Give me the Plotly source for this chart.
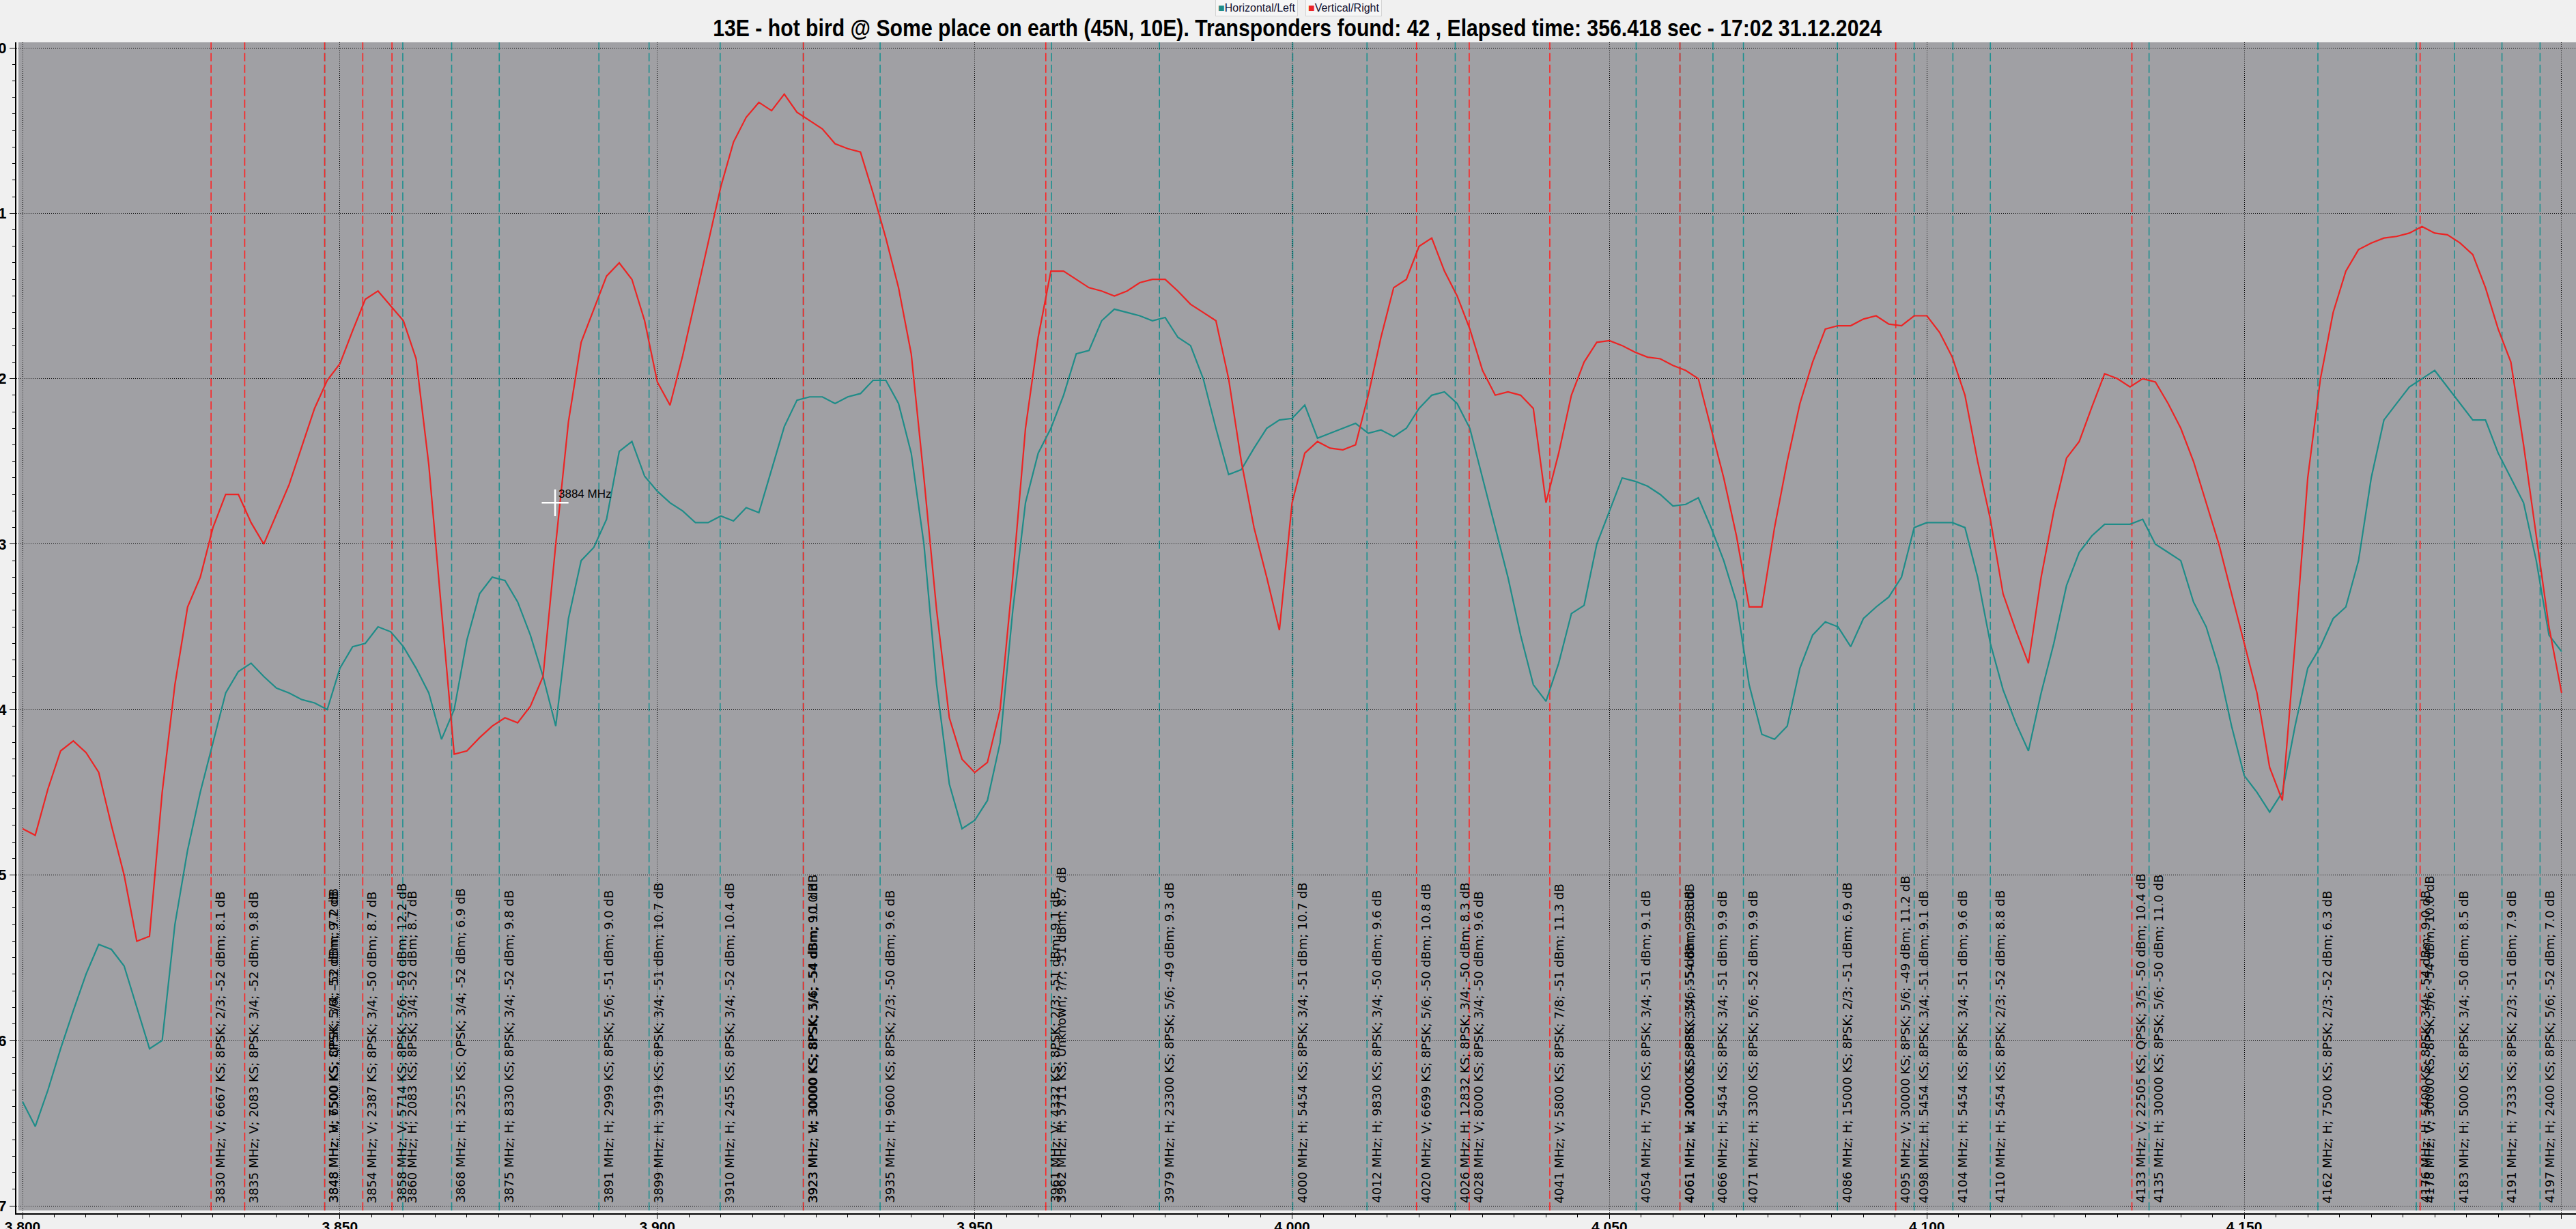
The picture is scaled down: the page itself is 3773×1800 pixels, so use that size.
import plotly.graph_objects as go

# ---------------- data ----------------
freq_mhz = list(range(3800, 4201, 2))

h_level = [
    6.37, 6.52, 6.30, 6.05, 5.82,
    5.60, 5.42, 5.45, 5.55, 5.80,
    6.05, 6.00, 5.30, 4.85, 4.50,
    4.20, 3.90, 3.77, 3.72, 3.80,
    3.87, 3.90, 3.94, 3.96, 4.00,
    3.75, 3.62, 3.60, 3.50, 3.53,
    3.62, 3.75, 3.90, 4.18, 4.00,
    3.58, 3.30, 3.20, 3.22, 3.35,
    3.55, 3.80, 4.10, 3.45, 3.10,
    3.02, 2.85, 2.44, 2.38, 2.59,
    2.68, 2.75, 2.80, 2.87, 2.87,
    2.83, 2.86, 2.78, 2.81, 2.55,
    2.29, 2.13, 2.11, 2.11, 2.15,
    2.11, 2.09, 2.01, 2.01, 2.15,
    2.45, 3.00, 3.85, 4.45, 4.72,
    4.67, 4.55, 4.20, 3.40, 2.75,
    2.45, 2.30, 2.10, 1.85, 1.83,
    1.65, 1.58, 1.60, 1.62, 1.65,
    1.63, 1.75, 1.80, 2.00, 2.30,
    2.58, 2.55, 2.42, 2.30, 2.25,
    2.24, 2.16, 2.36, 2.33, 2.30,
    2.27, 2.33, 2.31, 2.35, 2.30,
    2.18, 2.10, 2.08, 2.15, 2.30,
    2.60, 2.90, 3.20, 3.55, 3.85,
    3.95, 3.72, 3.42, 3.37, 3.00,
    2.80, 2.60, 2.62, 2.65, 2.70,
    2.77, 2.76, 2.72, 2.90, 3.10,
    3.35, 3.85, 4.15, 4.18, 4.10,
    3.75, 3.55, 3.47, 3.50, 3.62,
    3.45, 3.38, 3.32, 3.20, 2.90,
    2.87, 2.87, 2.87, 2.90, 3.20,
    3.60, 3.88, 4.08, 4.25, 3.90,
    3.60, 3.25, 3.05, 2.95, 2.88,
    2.88, 2.88, 2.85, 3.00, 3.05,
    3.10, 3.35, 3.50, 3.75, 4.10,
    4.40, 4.50, 4.62, 4.50, 4.10,
    3.75, 3.62, 3.45, 3.38, 3.10,
    2.60, 2.25, 2.15, 2.05, 2.00,
    1.95, 2.05, 2.15, 2.25, 2.25,
    2.45, 2.60, 2.75, 3.10, 3.55,
    3.65,
]

v_level = [
    4.72, 4.76, 4.48, 4.25, 4.19,
    4.26, 4.38, 4.70, 5.00, 5.40,
    5.37, 4.50, 3.85, 3.38, 3.20,
    2.90, 2.70, 2.70, 2.87, 3.00,
    2.82, 2.64, 2.41, 2.18, 2.01,
    1.91, 1.71, 1.52, 1.47, 1.56,
    1.65, 1.88, 2.52, 3.40, 4.27,
    4.25, 4.17, 4.10, 4.05, 4.08,
    3.98, 3.80, 3.00, 2.26, 1.78,
    1.58, 1.38, 1.30, 1.40, 1.65,
    2.02, 2.16, 1.86, 1.52, 1.18,
    0.84, 0.57, 0.42, 0.33, 0.38,
    0.28, 0.39, 0.44, 0.49, 0.58,
    0.61, 0.63, 0.88, 1.15, 1.45,
    1.85, 2.60, 3.40, 4.05, 4.30,
    4.38, 4.32, 4.00, 3.20, 2.30,
    1.75, 1.35, 1.35, 1.40, 1.45,
    1.47, 1.50, 1.47, 1.42, 1.40,
    1.40, 1.47, 1.55, 1.60, 1.65,
    2.00, 2.50, 2.90, 3.20, 3.52,
    2.75, 2.45, 2.38, 2.42, 2.43,
    2.40, 2.10, 1.75, 1.45, 1.40,
    1.20, 1.15, 1.35, 1.50, 1.70,
    1.95, 2.10, 2.08, 2.10, 2.18,
    2.75, 2.45, 2.10, 1.90, 1.78,
    1.77, 1.80, 1.84, 1.87, 1.88,
    1.92, 1.95, 2.00, 2.30, 2.60,
    2.95, 3.38, 3.38, 2.90, 2.50,
    2.15, 1.90, 1.70, 1.68, 1.68,
    1.64, 1.62, 1.67, 1.68, 1.62,
    1.62, 1.72, 1.87, 2.10, 2.50,
    2.85, 3.30, 3.52, 3.72, 3.20,
    2.80, 2.48, 2.38, 2.17, 1.97,
    2.00, 2.05, 2.00, 2.02, 2.15,
    2.30, 2.50, 2.75, 3.00, 3.30,
    3.60, 3.90, 4.35, 4.55, 3.60,
    2.60, 2.00, 1.60, 1.35, 1.22,
    1.18, 1.15, 1.14, 1.12, 1.08,
    1.12, 1.13, 1.18, 1.25, 1.45,
    1.70, 1.90, 2.40, 2.95, 3.50,
    3.90,
]

tp_freq = [3829.7, 3835.0, 3847.6, 3847.6, 3853.6, 3858.2, 3859.9, 3867.6, 3875.1,
           3890.8, 3898.7, 3909.9, 3923.0, 3923.0, 3935.1, 3961.2, 3962.1, 3979.1,
           4000.1, 4011.8, 4019.6, 4025.7, 4027.9, 4040.6, 4054.2, 4061.1, 4061.1,
           4066.3, 4071.1, 4085.9, 4095.1, 4098.0, 4104.1, 4110.0, 4132.3, 4135.0,
           4161.6, 4177.1, 4177.7, 4183.1, 4190.6, 4196.6]
tp_pol = ["V", "V", "H", "V", "V", "V", "H", "H", "H",
          "H", "H", "H", "H", "V", "H", "V", "H", "H",
          "H", "H", "V", "H", "V", "V", "H", "H", "V",
          "H", "H", "H", "V", "H", "H", "H", "V", "H",
          "H", "H", "V", "H", "H", "H"]
tp_label = [
    "3830 MHz; V; 6667 KS; 8PSK; 2/3; -52 dBm; 8.1 dB",
    "3835 MHz; V; 2083 KS; 8PSK; 3/4; -52 dBm; 9.8 dB",
    "3848 MHz; H; 6500 KS; QPSK; 3/4; -52 dBm; 7.2 dB",
    "3848 MHz; V; 7500 KS; 8PSK; 5/6; -53 dBm; 9.7 dB",
    "3854 MHz; V; 2387 KS; 8PSK; 3/4; -50 dBm; 8.7 dB",
    "3858 MHz; V; 5714 KS; 8PSK; 5/6; -50 dBm; 12.2 dB",
    "3860 MHz; H; 2083 KS; 8PSK; 3/4; -52 dBm; 8.7 dB",
    "3868 MHz; H; 3255 KS; QPSK; 3/4; -52 dBm; 6.9 dB",
    "3875 MHz; H; 8330 KS; 8PSK; 3/4; -52 dBm; 9.8 dB",
    "3891 MHz; H; 2999 KS; 8PSK; 5/6; -51 dBm; 9.0 dB",
    "3899 MHz; H; 3919 KS; 8PSK; 3/4; -51 dBm; 10.7 dB",
    "3910 MHz; H; 2455 KS; 8PSK; 3/4; -52 dBm; 10.4 dB",
    "3923 MHz; H; 30000 KS; 8PSK; 5/6; -54 dBm; 10.0 dB",
    "3923 MHz; V; 30000 KS; 8PSK; 3/4; -54 dBm; 9.1 dB",
    "3935 MHz; H; 9600 KS; 8PSK; 2/3; -50 dBm; 9.6 dB",
    "3961 MHz; V; 4332 KS; 8PSK; 2/3; -51 dBm; 9.1 dB",
    "3962 MHz; H; 5711 KS; Unknown; ?/?; -51 dBm; 8.7 dB",
    "3979 MHz; H; 23300 KS; 8PSK; 5/6; -49 dBm; 9.3 dB",
    "4000 MHz; H; 5454 KS; 8PSK; 3/4; -51 dBm; 10.7 dB",
    "4012 MHz; H; 9830 KS; 8PSK; 3/4; -50 dBm; 9.6 dB",
    "4020 MHz; V; 6699 KS; 8PSK; 5/6; -50 dBm; 10.8 dB",
    "4026 MHz; H; 12832 KS; 8PSK; 3/4; -50 dBm; 8.3 dB",
    "4028 MHz; V; 8000 KS; 8PSK; 3/4; -50 dBm; 9.6 dB",
    "4041 MHz; V; 5800 KS; 8PSK; 7/8; -51 dBm; 11.3 dB",
    "4054 MHz; H; 7500 KS; 8PSK; 3/4; -51 dBm; 9.1 dB",
    "4061 MHz; H; 2000 KS; 8PSK; 3/4; -55 dBm; 9.3 dB",
    "4061 MHz; V; 30000 KS; 8PSK; 5/6; -54 dBm; 9.8 dB",
    "4066 MHz; H; 5454 KS; 8PSK; 3/4; -51 dBm; 9.9 dB",
    "4071 MHz; H; 3300 KS; 8PSK; 5/6; -52 dBm; 9.9 dB",
    "4086 MHz; H; 15000 KS; 8PSK; 2/3; -51 dBm; 6.9 dB",
    "4095 MHz; V; 30000 KS; 8PSK; 5/6; -49 dBm; 11.2 dB",
    "4098 MHz; H; 5454 KS; 8PSK; 3/4; -51 dBm; 9.1 dB",
    "4104 MHz; H; 5454 KS; 8PSK; 3/4; -51 dBm; 9.6 dB",
    "4110 MHz; H; 5454 KS; 8PSK; 2/3; -52 dBm; 8.8 dB",
    "4133 MHz; V; 22505 KS; QPSK; 3/5; -50 dBm; 10.4 dB",
    "4135 MHz; H; 30000 KS; 8PSK; 5/6; -50 dBm; 11.0 dB",
    "4162 MHz; H; 7500 KS; 8PSK; 2/3; -52 dBm; 6.3 dB",
    "4176 MHz; H; 5400 KS; 8PSK; 3/4; -54 dBm; 9.0 dB",
    "4178 MHz; V; 30000 KS; 8PSK; 5/6; -54 dBm; 10.0 dB",
    "4183 MHz; H; 5000 KS; 8PSK; 3/4; -50 dBm; 8.5 dB",
    "4191 MHz; H; 7333 KS; 8PSK; 2/3; -51 dBm; 7.9 dB",
    "4197 MHz; H; 2400 KS; 8PSK; 5/6; -52 dBm; 7.0 dB",
]

cursor_freq = [3883.9]
cursor_level = [2.75]
cursor_text = "3884 MHz"

series_names = ["Horizontal/Left", "Vertical/Right"]
title_text = ("13E - hot bird @ Some place on earth (45N, 10E). Transponders found: 42 , "
              "Elapsed time: 356.418 sec - 17:02 31.12.2024")

# ---------------- styling ----------------
TEAL = "#1f8c88"
RED = "#ec2424"
LINE_TEAL = "#1f9090"
LINE_RED = "#ff2222"
PLOT_BG = "#a0a0a4"
PAPER_BG = "#f0f0f0"
NARROW = "Liberation Sans Narrow, Arial Narrow, Liberation Sans, Arial, sans-serif"

W, H = 3773, 1800
ML, MR, MT, MB = 24, 0, 62, 23

fig = go.Figure()

fig.add_trace(go.Scatter(x=freq_mhz, y=h_level, mode="lines", name=series_names[0],
                         line=dict(color=TEAL, width=2.2)))
fig.add_trace(go.Scatter(x=freq_mhz, y=v_level, mode="lines", name=series_names[1],
                         line=dict(color=RED, width=2.2)))
fig.add_trace(go.Scatter(x=cursor_freq, y=cursor_level, mode="markers", showlegend=False,
                         marker=dict(symbol="cross-thin", size=28,
                                     line=dict(color="white", width=2.5))))

shapes = []
shapes.append(dict(type="rect", xref="paper", yref="paper", x0=0.0008, x1=1, y0=0.0025, y1=1,
                   fillcolor=PLOT_BG, line=dict(width=0), layer="below"))
order = [i for i in range(len(tp_freq)) if tp_pol[i] == "H"] + \
        [i for i in range(len(tp_freq)) if tp_pol[i] == "V"]
for i in order:
    col = LINE_TEAL if tp_pol[i] == "H" else LINE_RED
    shapes.append(dict(type="line", xref="x", yref="paper", x0=tp_freq[i], x1=tp_freq[i],
                       y0=0.0025, y1=1, layer="below",
                       line=dict(color=col, width=1.6, dash="12px,5px")))

annotations = []
for i in range(len(tp_freq)):
    annotations.append(dict(x=tp_freq[i], y=7, xref="x", yref="y", text=tp_label[i],
                            textangle=-90, xanchor="left", yanchor="bottom", showarrow=False,
                            xshift=1, yshift=2,
                            font=dict(family="DejaVu Sans, Arial, sans-serif", size=18,
                                      color="black")))

annotations.append(dict(x=cursor_freq[0], y=cursor_level[0], xref="x", yref="y",
                        text=cursor_text, showarrow=False, xanchor="left", yanchor="bottom",
                        xshift=3, yshift=1, font=dict(family=NARROW, size=17, color="black")))


def px_to_paper_x(px):
    return (px - ML) / (W - ML - MR)


def px_to_paper_y(py):
    return (H - MB - py) / (H - MT - MB)


legend_items = [(series_names[0], TEAL, 1840), (series_names[1], RED, 1968)]
for name, col, cx in legend_items:
    annotations.append(dict(x=px_to_paper_x(cx), y=px_to_paper_y(12), xref="paper", yref="paper",
                            text=f"<span style='color:{col}'>■</span>{name}", showarrow=False,
                            xanchor="center", yanchor="middle", bgcolor="#f6f6f6",
                            bordercolor="#d4d4d4", borderwidth=1, borderpad=3,
                            font=dict(family=NARROW, size=16, color="#101030")))

fig.update_layout(
    width=W, height=H,
    margin=dict(l=ML, r=MR, t=MT, b=MB, pad=0),
    paper_bgcolor=PAPER_BG, plot_bgcolor=PAPER_BG,
    showlegend=False,
    separators=",.",
    title=dict(text=f"<b>{title_text}</b>", x=0.5036, xanchor="center", xref="container",
               y=1 - 41 / H, yanchor="middle", yref="container",
               font=dict(family=NARROW, size=35, color="black")),
    shapes=shapes,
    annotations=annotations,
    xaxis=dict(range=[3799.03, 4202.26], tick0=3800, dtick=50, tickformat=",d",
               ticks="outside", ticklen=6, tickwidth=1, tickcolor="black",
               showline=True, linecolor="black", linewidth=2,
               showgrid=True, gridcolor="black", gridwidth=1, griddash="1px,2px",
               zeroline=False, automargin=False, ticklabelstandoff=-6,
               tickfont=dict(family=NARROW, size=21, color="black", weight="bold"),
               minor=dict(dtick=5, tick0=3800, ticks="outside", ticklen=4, tickcolor="black",
                          showgrid=False)),
    yaxis=dict(range=[7.045, -0.033], tick0=0, dtick=1,
               ticks="outside", ticklen=8, tickwidth=1, tickcolor="black",
               showline=True, linecolor="black", linewidth=2,
               showgrid=True, gridcolor="black", gridwidth=1, griddash="1px,2px",
               zeroline=False, automargin=False,
               tickfont=dict(family=NARROW, size=22, color="black", weight="bold"),
               minor=dict(dtick=0.1, tick0=0, ticks="outside", ticklen=4, tickcolor="black",
                          showgrid=False)),
)

post_js = """
document.body.style.margin = '0';
var gd = document.getElementById('{plot_id}');
var t = gd ? gd.querySelector('.gtitle') : null;
if (t) {
  var bb = t.getBBox();
  var s = 1713 / bb.width;
  var cx = bb.x + bb.width / 2;
  t.setAttribute('transform', 'translate(' + cx + ',0) scale(' + s + ',1) translate(' + (-cx) + ',0)');
}
"""

fig.write_html("out.html", post_script=post_js, config={"displayModeBar": False})
